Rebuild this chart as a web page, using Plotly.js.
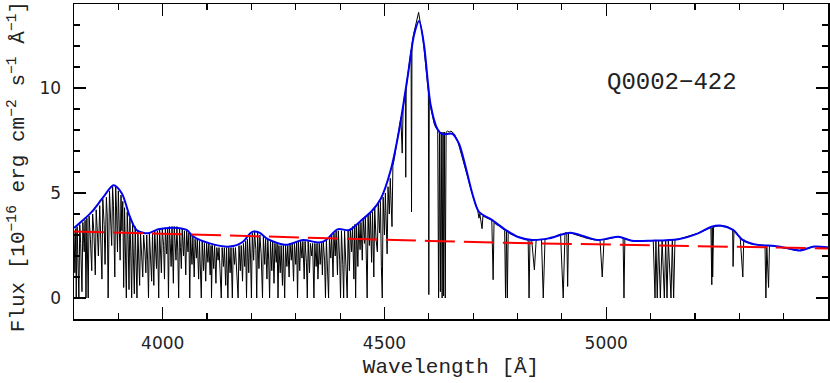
<!DOCTYPE html>
<html>
<head>
<meta charset="utf-8">
<script src="https://cdn.plot.ly/plotly-3.0.1.min.js"></script>
<style>
  html, body { margin: 0; padding: 0; background: #fff; }
  #graph { width: 830px; height: 383px; }
</style>
</head>
<body>
<div id="graph"></div>
<script>
// observed spectrum, Lyman-alpha forest part [wavelength, flux]
const forestPts = [
  [3800,3.2],[3802,1.2],[3804,3.3],[3805,0],[3807,3.4],[3809,2.0],[3811,0],[3813,3.5],[3815,2.6],[3818,0.3],
  [3820,3.6],[3823,2.2],[3825,3.7],[3827,0],[3829,3.8],[3832,0],[3834,3.9],[3837,2.8],[3840,1.3],[3842,4.0],
  [3845,3.1],[3848,1.1],[3850,4.2],[3853,3.0],[3855,2.0],[3858,4.4],[3860,3.3],[3863,0.9],[3865,4.7],[3868,3.5],
  [3870,1.6],[3873,4.8],[3875,3.9],[3877,0],[3880,5.1],[3882,4.2],[3885,2.5],[3887,5.3],[3889,4.4],[3892,1.0],
  [3894,5.3],[3896,4.1],[3898,2.2],[3900,5.1],[3902,3.9],[3904,1.8],[3906,4.9],[3908,3.2],[3910,4.6],[3912,0.5],
  [3914,4.3],[3916,2.1],[3918,0],[3920,4.1],[3922,2.8],[3924,0.4],[3926,3.8],[3928,2.2],[3930,0],[3932,3.6],
  [3934,1.5],[3936,0.2],[3938,3.4],[3940,1.9],[3942,0],[3944,3.2],[3946,1.2],[3948,0.6],[3950,3.1],[3952,2.0],
  [3955,1.0],[3957,3.0],[3960,2.2],[3962,1.2],[3964,3.0],[3966,1.8],[3968,0],[3970,3.1],[3972,2.0],[3975,0.8],
  [3977,3.1],[3980,0.6],[3982,3.2],[3984,2.3],[3986,1.4],[3988,3.2],[3991,0],[3993,3.3],[3995,2.4],[3997,1.2],
  [3999,3.3],[4002,2.5],[4004,0.9],[4006,3.3],[4009,2.1],[4011,3.3],[4013,0],[4015,3.4],[4017,2.6],[4019,1.5],
  [4021,3.4],[4024,0.7],[4026,3.4],[4028,2.5],[4030,1.8],[4032,3.4],[4034,2.2],[4036,0],[4038,3.3],[4040,2.4],
  [4042,1.4],[4044,3.3],[4047,2.0],[4049,3.2],[4052,1.1],[4054,3.2],[4057,2.2],[4059,3.1],[4061,0],[4063,3.0],
  [4066,1.6],[4068,2.9],[4071,1.0],[4073,2.8],[4076,1.9],[4078,2.8],[4081,0.9],[4083,2.7],[4085,1.6],[4087,0],
  [4089,2.7],[4092,1.3],[4094,2.6],[4097,0.8],[4099,2.6],[4102,1.7],[4104,2.6],[4107,1.1],[4109,2.5],[4110,0],
  [4112,2.5],[4115,1.4],[4117,2.5],[4120,0.7],[4122,2.4],[4125,1.8],[4127,2.4],[4130,1.0],[4132,0],[4134,2.4],
  [4137,1.5],[4139,2.4],[4142,0.6],[4144,2.4],[4147,0],[4149,2.4],[4152,1.2],[4154,2.4],[4157,0],[4159,2.4],
  [4162,1.6],[4164,2.4],[4167,0.9],[4170,0],[4172,2.5],[4175,1.3],[4177,2.5],[4180,0.8],[4182,2.6],[4185,1.5],
  [4187,2.7],[4189,0],[4191,2.8],[4194,1.2],[4196,2.9],[4198,2.0],[4200,0],[4202,3.1],[4205,1.8],[4207,3.2],
  [4210,2.3],[4212,0],[4214,3.1],[4217,1.4],[4219,3.0],[4222,2.1],[4225,0],[4227,2.9],[4230,1.6],[4232,2.8],
  [4235,0.9],[4237,2.8],[4239,1.8],[4241,0],[4243,2.7],[4246,1.3],[4248,2.7],[4251,0.7],[4253,2.6],[4256,1.7],
  [4258,2.6],[4260,0],[4262,2.5],[4265,1.2],[4267,2.5],[4270,0.6],[4272,2.5],[4275,0],[4277,2.5],[4280,1.5],
  [4282,2.5],[4285,1.0],[4287,2.6],[4290,1.8],[4292,2.6],[4295,0.8],[4297,2.6],[4300,1.6],[4302,2.7],[4304,0],
  [4306,2.7],[4309,1.3],[4311,2.7],[4314,1.9],[4316,2.7],[4319,0.9],[4321,2.7],[4324,1.7],[4326,0],[4328,2.7],
  [4331,1.2],[4333,2.6],[4336,2.0],[4338,2.6],[4341,0],[4343,2.6],[4346,1.5],[4348,2.6],[4350,0.9],[4353,2.6],
  [4355,1.6],[4358,2.6],[4360,1.1],[4362,2.7],[4365,1.8],[4367,0],[4369,2.8],[4372,1.4],[4374,0],[4376,2.9],
  [4379,1.9],[4381,3.0],[4384,1.0],[4386,3.1],[4389,2.0],[4391,3.2],[4394,1.1],[4396,3.2],[4399,1.8],[4401,0],
  [4403,3.2],[4406,1.6],[4408,0],[4410,3.2],[4413,1.9],[4416,0],[4418,3.2],[4421,1.3],[4423,3.3],[4426,2.2],
  [4428,3.4],[4431,0.9],[4433,3.5],[4435,0],[4437,3.5],[4440,1.5],[4442,3.6],[4445,2.3],[4447,3.6],[4450,1.8],
  [4452,3.8],[4455,2.6],[4457,3.9],[4459,1.2],[4461,0],[4463,4.0],[4466,2.5],[4468,4.1],[4471,1.7],[4473,4.1],
  [4476,1.0],[4478,4.3],[4481,2.8],[4484,2.2],[4486,4.5],[4489,3.1],[4491,4.6],[4493,1.5],[4495,0],[4497,4.8],
  [4500,3.0],[4502,5.0],[4504,3.6],[4506,2.1],[4508,5.3],[4511,4.0],[4513,5.7],[4515,4.2],[4517,3.4],[4519,6.3]
];
// Lyman-alpha / NV emission peak
const peakPts = [
  [4522,6.6],[4527,7.3],[4532,7.9],[4537,8.6],[4540,6.9],[4542,9.0],[4545,9.6],[4547,9.8],[4548,5.75],[4549,10.0],
  [4553,10.7],[4557,11.4],[4560,11.8],[4561,4.1],[4562,12.1],[4566,12.6],[4570,13.0],[4574,13.3],[4577,13.6],[4580,13.2],
  [4583,12.9],[4586,12.5],[4590,11.7],[4594,10.8],[4597,10.2],[4599,9.8],[4600,0.16],[4601,9.6],[4604,9.1],[4608,8.6],
  [4612,8.3],[4616,8.1],[4620,8.0],[4622,0],[4624,7.9],[4626,0.3],[4628,7.9],[4630,0],[4632,7.9],[4633,0.1],
  [4635,7.9],[4637,0],[4639,7.9],[4642,7.95],[4646,7.9],[4650,7.95],[4654,7.85],[4658,7.8],[4662,7.6],[4666,7.4],
  [4670,7.1],[4675,6.7],[4680,6.3],[4685,5.9],[4690,5.5],[4695,5.1],[4700,4.8],[4705,4.5],[4710,4.2],[4713,3.8],
  [4715,4.0],[4720,3.3],[4722,3.9]
];
// red side of the spectrum
const redPts = [
  [4727,3.85],[4732,3.8],[4738,3.75],[4742,3.7],[4745,0.87],[4747,3.6],[4752,3.5],[4757,3.45],[4762,3.4],[4767,3.3],
  [4771,3.2],[4773,0],[4775,3.2],[4777,0],[4779,3.15],[4784,3.05],[4790,3.0],[4796,2.95],[4802,2.9],[4808,2.85],
  [4814,2.8],[4820,2.78],[4824,2.75],[4826,0],[4828,2.75],[4832,2.75],[4838,1.34],[4842,2.76],[4848,2.78],[4854,2.8],
  [4858,0],[4862,2.8],[4868,2.82],[4875,2.85],[4882,2.9],[4890,2.98],[4897,3.05],[4903,0],[4907,3.1],[4911,3.1],
  [4913,0.55],[4915,3.1],[4920,3.1],[4926,3.05],[4932,3.0],[4940,2.95],[4948,2.9],[4955,2.85],[4962,2.8],[4970,2.78],
  [4978,2.76],[4986,2.76],[4991,1.0],[4995,2.78],[5002,2.8],[5010,2.85],[5018,2.9],[5025,2.92],[5032,2.9],[5038,2.85],
  [5040,0],[5042,2.82],[5050,2.78],[5058,2.73],[5068,2.72],[5078,2.72],[5088,2.72],[5098,2.72],[5106,2.73],[5110,0],
  [5112,2.73],[5115,0],[5118,2.74],[5122,0],[5126,2.74],[5131,0],[5134,2.75],[5137,0],[5140,2.76],[5146,0],
  [5149,2.77],[5152,0],[5155,2.78],[5162,2.8],[5170,2.85],[5180,2.9],[5190,2.95],[5200,3.02],[5210,3.1],[5220,3.2],
  [5230,3.3],[5236,3.35],[5238,0.63],[5239,3.36],[5240,1.0],[5242,3.38],[5250,3.42],[5260,3.44],[5270,3.42],[5278,3.35],
  [5285,3.25],[5286,1.5],[5288,3.2],[5295,3.05],[5302,2.9],[5308,1.0],[5310,2.78],[5318,2.65],[5326,2.58],[5334,2.55],
  [5342,2.53],[5350,2.52],[5358,2.5],[5360,0],[5362,2.5],[5366,0.5],[5368,2.5],[5375,2.48],[5385,2.45],[5395,2.42],
  [5405,2.38],[5415,2.33],[5425,2.28],[5435,2.26],[5445,2.3],[5455,2.38],[5465,2.44],[5475,2.45],[5485,2.42],[5500,2.42]
];

// fitted continuum + emission (blue)
const fitWave = [3800,3820,3840,3866,3889,3908,3926,3941,3967,3990,4024,4054,4069,4106,4151,4181,4196,4203,4218,4237,
  4278,4316,4353,4368,4394,4421,4447,4473,4492,4514,4533,4552,4567,4578,4589,4604,4619,4630,4653,4668,
  4683,4698,4713,4743,4773,4803,4833,4870,4919,4953,4982,5027,5057,5102,5162,5207,5237,5260,5286,5308,
  5342,5380,5409,5436,5469,5500];
const fitFlux = [3.33,3.7,4.1,4.8,5.37,4.98,3.87,3.24,3.08,3.27,3.35,3.24,2.92,2.6,2.45,2.68,3.05,3.16,3.11,2.8,
  2.53,2.76,2.64,2.76,3.27,3.24,3.68,4.18,4.74,6.08,7.98,10.5,12.56,13.19,12.08,9.2,8.06,7.8,7.82,7.35,
  6.24,4.98,4.1,3.71,3.24,2.89,2.76,2.84,3.11,2.92,2.76,2.92,2.73,2.73,2.8,3.08,3.39,3.44,3.24,2.76,
  2.53,2.48,2.37,2.26,2.45,2.4];

// power-law continuum (red dashed)
const plWave = [3800,4000,4200,4400,4600,4800,5000,5200,5400,5500];
const plFlux = [3.17,3.05,2.93,2.82,2.72,2.62,2.54,2.46,2.39,2.36];

const spec = forestPts.concat(peakPts, redPts);

const traces = [
  { x: spec.map(p => p[0]), y: spec.map(p => p[1]), mode: "lines", type: "scatter",
    line: { color: "#000", width: 1 }, hoverinfo: "skip" },
  { x: fitWave, y: fitFlux, mode: "lines", type: "scatter",
    line: { color: "#0000ee", width: 2, shape: "spline", smoothing: 0.8 } },
  { x: plWave, y: plFlux, mode: "lines", type: "scatter",
    line: { color: "#ff0000", width: 2, dash: "30px,9px" } }
];

const axisFont = { family: "DejaVu Sans", size: 17, color: "#222" };
const titleFont = { family: "Liberation Mono", size: 21, color: "#222" };

const layout = {
  width: 830, height: 383,
  margin: { l: 74, r: 2, t: 4, b: 64 },
  paper_bgcolor: "#fff", plot_bgcolor: "#fff",
  showlegend: false,
  xaxis: {
    range: [3800, 5500], dtick: 500, tick0: 4000,
    ticks: "inside", ticklen: 12, tickwidth: 1.2, tickcolor: "#000",
    minor: { dtick: 100, ticks: "inside", ticklen: 6, tickcolor: "#000" },
    showline: true, linecolor: "#000", linewidth: 1.5, mirror: "ticks",
    showgrid: false, zeroline: false,
    tickfont: axisFont, ticklabelstandoff: 8,
    title: { text: "Wavelength [Å]", font: titleFont, standoff: 6 }
  },
  yaxis: {
    range: [-1, 14], dtick: 5, tick0: 0,
    ticks: "inside", ticklen: 12, tickwidth: 1.2, tickcolor: "#000",
    minor: { dtick: 1, ticks: "inside", ticklen: 6, tickcolor: "#000" },
    showline: true, linecolor: "#000", linewidth: 1.5, mirror: "ticks",
    showgrid: false, zeroline: false,
    tickfont: axisFont, ticklabelstandoff: 8
  },
  annotations: [
    { text: "Flux [10<sup>−16</sup> erg cm<sup>−2</sup> s<sup>−1</sup> Å<sup>−1</sup>]",
      xref: "paper", yref: "paper", x: -0.075, y: 0.483, textangle: -90,
      showarrow: false, font: titleFont, xanchor: "center", yanchor: "middle" },
    { text: "Q0002−422", xref: "paper", yref: "paper", x: 0.793, y: 0.752,
      showarrow: false, font: { family: "Liberation Mono", size: 24, color: "#222" },
      xanchor: "center", yanchor: "middle" }
  ]
};

Plotly.newPlot("graph", traces, layout, { staticPlot: true });
</script>
</body>
</html>
